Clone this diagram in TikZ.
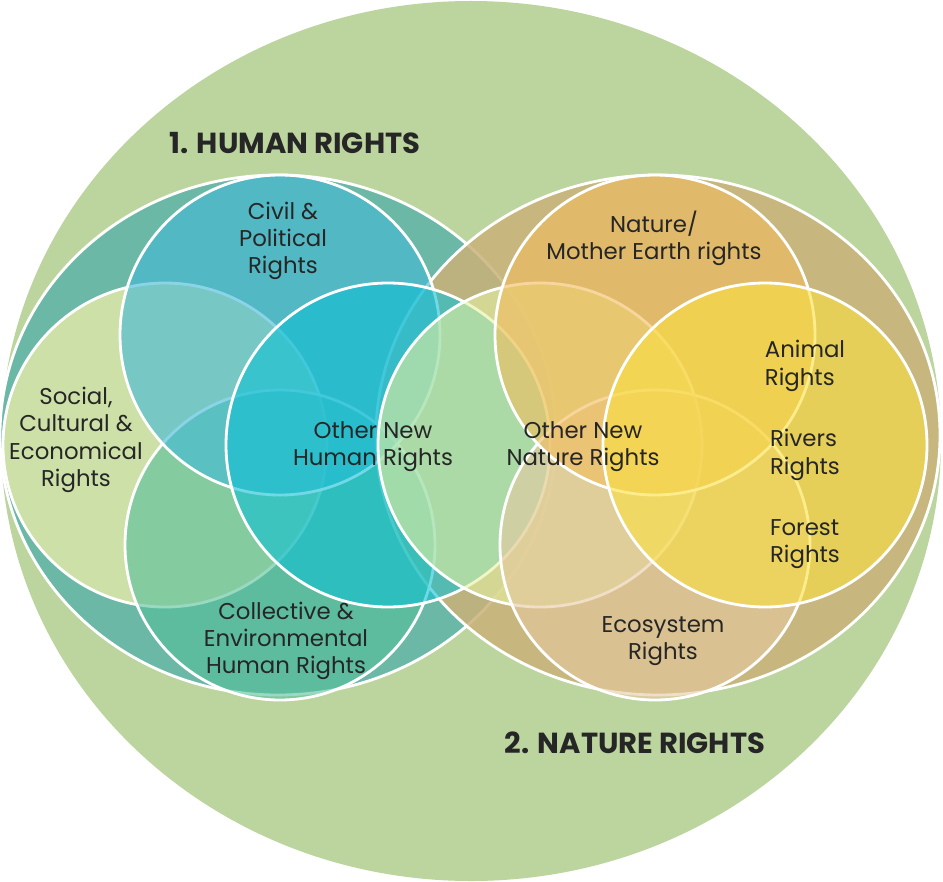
\documentclass[tikz,border=0pt]{standalone}
\usepackage{fontspec}
\setmainfont{Poppins}
\definecolor{bg}{HTML}{BCD59E}
\definecolor{hum}{HTML}{5FB3A8}
\definecolor{nat}{HTML}{C9B27A}
\definecolor{cpol}{HTML}{3FB8D8}
\definecolor{soc}{HTML}{DDE8A8}
\definecolor{col}{HTML}{55C09A}
\definecolor{onh}{HTML}{10C0D4}
\definecolor{mea}{HTML}{F2BC5C}
\definecolor{ani}{HTML}{FAE040}
\definecolor{eco}{HTML}{E6C8A0}
\definecolor{onn}{HTML}{E6F0A0}
\tikzset{x=0.02cm,y=-0.02cm,
 ring/.style={draw=white,line width=1.6pt,fill opacity=0.6},
 lab/.style={align=center,font=\fontsize{13}{15.5}\selectfont,text=black!85,inner sep=0pt},
 ttl/.style={font=\fontsize{16.5}{18}\selectfont\bfseries,text=black!85}}
\begin{document}
\begin{tikzpicture}
\useasboundingbox (0,0) rectangle (943,882);
\fill[white] (0,0) rectangle (943,882);
\fill[bg] (471,441) ellipse [x radius=470,y radius=440];
\filldraw[ring,fill=hum,fill opacity=0.85] (278,435) ellipse [x radius=278,y radius=260];
\filldraw[ring,fill=nat,fill opacity=0.85] (658,435) ellipse [x radius=282,y radius=260];
% human circles
\filldraw[ring,fill=soc,fill opacity=0.85] (165,445) circle (162);
\filldraw[ring,fill=col] (280,545) circle (155);
\filldraw[ring,fill=cpol] (280,335) circle (160);
\filldraw[ring,fill=onh] (388,445) circle (162);
% nature circles
\filldraw[ring,fill=onn] (540,445) circle (162);
\filldraw[ring,fill=eco] (655,545) circle (155);
\filldraw[ring,fill=mea] (655,335) circle (160);
\filldraw[ring,fill=ani] (765,445) circle (162);
\node[ttl] (t1) at (295,143) {1. HUMAN RIGHTS};
\node[ttl] (t2) at (635,743) {2. NATURE RIGHTS};
\node[lab] (a) at (283,241) {Civil \&\\Political\\Rights};
\node[lab] (b) at (76,440) {Social,\\Cultural \&\\Economical\\Rights};
\node[lab] (c) at (373,447) {Other New\\Human Rights};
\node[lab] (d) at (286,641) {Collective \&\\Environmental\\Human Rights};
\node[lab] (e) at (654,238) {Nature/\\Mother Earth rights};
\node[lab] (f) at (583,447) {Other New\\Nature Rights};
\node[lab,align=left] (g) at (805,366) {Animal\\Rights};
\node[lab,align=left] (h) at (805,455) {Rivers\\Rights};
\node[lab,align=left] (i) at (805,544) {Forest\\Rights};
\node[lab] (j) at (663,641) {Ecosystem\\Rights};
\end{tikzpicture}
\end{document}
